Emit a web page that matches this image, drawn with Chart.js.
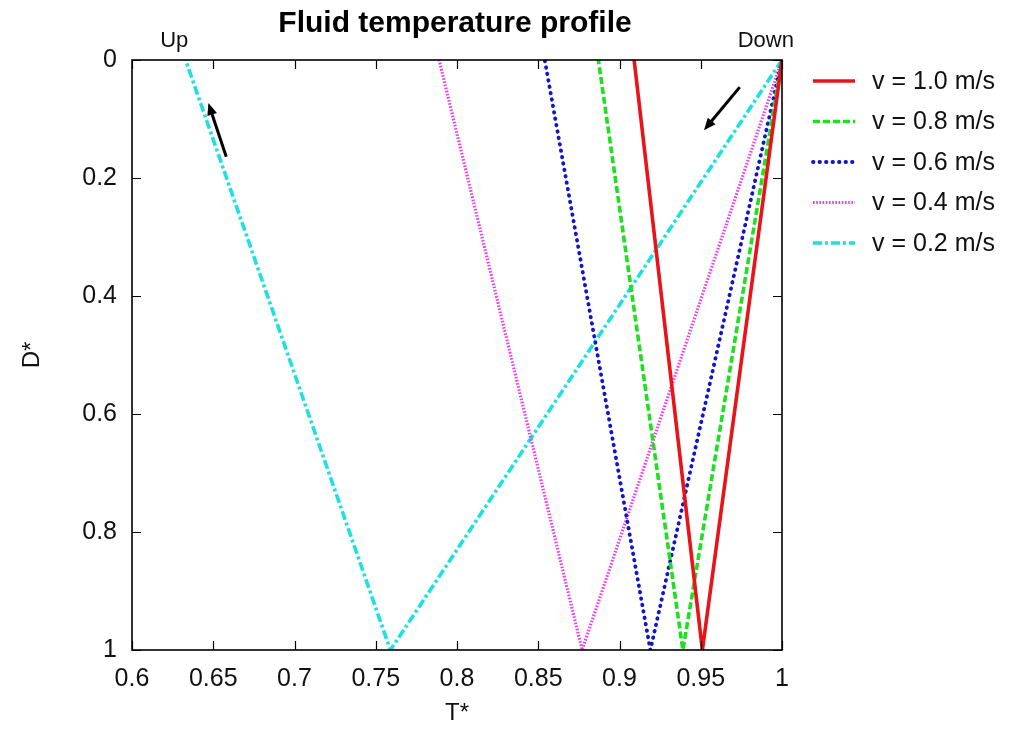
<!DOCTYPE html>
<html>
<head>
<meta charset="utf-8">
<title>Fluid temperature profile</title>
<script src="https://cdn.jsdelivr.net/npm/chart.js@4"></script>
<style>
  body { margin: 0; background: #fff; }
  #wrap { width: 1011px; height: 731px; }
</style>
</head>
<body>
<div id="wrap"><canvas id="profile" width="1011" height="731"></canvas></div>
<script>
// depth along the well (down to the bottom, then back up)
var depth = [0, 1, 0];

// T* at the top inlet, at the bottom, and back at the top outlet
var temp10 = [1.0, 0.951, 0.909];
var temp08 = [1.0, 0.939, 0.887];
var temp06 = [1.0, 0.919, 0.854];
var temp04 = [1.0, 0.877, 0.789];
var temp02 = [1.0, 0.759, 0.633];

var seriesLabels = ['v = 1.0 m/s', 'v = 0.8 m/s', 'v = 0.6 m/s', 'v = 0.4 m/s', 'v = 0.2 m/s'];
var xTicks = [0.6, 0.65, 0.7, 0.75, 0.8, 0.85, 0.9, 0.95, 1];
var yTicks = [0, 0.2, 0.4, 0.6, 0.8, 1];

// flow direction arrows, [T*, D*] for tail and tip
var arrowUp = [[0.658, 0.164], [0.647, 0.073]];
var arrowDown = [[0.974, 0.046], [0.952, 0.119]];

var FONT = '"Liberation Sans", Arial, Helvetica, sans-serif';

function pts(temps){
    return temps.map(function(t, i){ return {x: t, y: depth[i]}; });
}

var styles = [
    {color: '#e8141a', dash: [], width: 3.6, cap: 'butt'},
    {color: '#1fe01f', dash: [7, 3], width: 3.6, cap: 'butt'},
    {color: '#1414c8', dash: [0.5, 6], width: 3.8, cap: 'round'},
    {color: '#ee3cee', dash: [1.6, 1.6], width: 3.2, cap: 'butt'},
    {color: '#1ee0e0', dash: [9, 3, 3, 3], width: 3.6, cap: 'butt'}
];
var temps = [temp10, temp08, temp06, temp04, temp02];

var datasets = temps.map(function(t, i){
    return {
        label: seriesLabels[i],
        data: pts(t),
        borderColor: styles[i].color,
        backgroundColor: styles[i].color,
        borderWidth: styles[i].width,
        borderDash: styles[i].dash,
        borderCapStyle: styles[i].cap,
        pointRadius: 0,
        tension: 0,
        fill: false
    };
});

function drawArrow(ctx, chart, a){
    var xs = chart.scales.x, ys = chart.scales.y;
    var x0 = xs.getPixelForValue(a[0][0]), y0 = ys.getPixelForValue(a[0][1]);
    var x1 = xs.getPixelForValue(a[1][0]), y1 = ys.getPixelForValue(a[1][1]);
    var ang = Math.atan2(y1 - y0, x1 - x0);
    var hl = 12, hw = 5;
    ctx.save();
    ctx.strokeStyle = '#000';
    ctx.fillStyle = '#000';
    ctx.lineWidth = 3;
    ctx.beginPath();
    ctx.moveTo(x0, y0);
    ctx.lineTo(x1 - Math.cos(ang) * hl * 0.8, y1 - Math.sin(ang) * hl * 0.8);
    ctx.stroke();
    ctx.beginPath();
    ctx.moveTo(x1, y1);
    ctx.lineTo(x1 - Math.cos(ang) * hl - Math.sin(ang) * hw, y1 - Math.sin(ang) * hl + Math.cos(ang) * hw);
    ctx.lineTo(x1 - Math.cos(ang) * hl + Math.sin(ang) * hw, y1 - Math.sin(ang) * hl - Math.cos(ang) * hw);
    ctx.closePath();
    ctx.fill();
    ctx.restore();
}

// frame with inward ticks on all four sides, title, labels, arrows and key
var decorations = {
    id: 'decorations',
    afterDatasetsDraw: function(chart){
        var ctx = chart.ctx, area = chart.chartArea;
        var xs = chart.scales.x, ys = chart.scales.y;
        var tl = 9;
        ctx.save();
        ctx.strokeStyle = '#000';
        ctx.lineWidth = 1.6;
        ctx.strokeRect(area.left, area.top, area.right - area.left, area.bottom - area.top);
        ctx.lineWidth = 1.2;
        ctx.beginPath();
        xs.ticks.forEach(function(t){
            var px = Math.round(xs.getPixelForValue(t.value)) + 0.5;
            ctx.moveTo(px, area.bottom); ctx.lineTo(px, area.bottom - tl);
            ctx.moveTo(px, area.top); ctx.lineTo(px, area.top + tl);
        });
        ys.ticks.forEach(function(t){
            var py = Math.round(ys.getPixelForValue(t.value)) + 0.5;
            ctx.moveTo(area.left, py); ctx.lineTo(area.left + tl, py);
            ctx.moveTo(area.right, py); ctx.lineTo(area.right - tl, py);
        });
        ctx.stroke();

        // title
        ctx.fillStyle = '#000';
        ctx.font = 'bold 30px ' + FONT;
        ctx.textAlign = 'center';
        ctx.textBaseline = 'middle';
        ctx.fillText('Fluid temperature profile', (area.left + area.right) / 2 - 2, 24);

        ctx.font = '22px ' + FONT;
        ctx.fillStyle = '#111';
        ctx.fillText('Up', xs.getPixelForValue(0.626), 41);
        ctx.fillText('Down', xs.getPixelForValue(0.99), 41);
        ctx.restore();

        drawArrow(ctx, chart, arrowUp);
        drawArrow(ctx, chart, arrowDown);

        // key
        ctx.save();
        ctx.font = '25px ' + FONT;
        ctx.textAlign = 'left';
        ctx.textBaseline = 'middle';
        chart.data.datasets.forEach(function(ds, i){
            var y = area.top + 21 + i * 40.5;
            ctx.beginPath();
            ctx.strokeStyle = ds.borderColor;
            ctx.lineWidth = ds.borderWidth;
            ctx.lineCap = ds.borderCapStyle;
            ctx.setLineDash(ds.borderDash);
            ctx.moveTo(813, y);
            ctx.lineTo(855, y);
            ctx.stroke();
            ctx.setLineDash([]);
            ctx.fillStyle = '#111';
            ctx.fillText(ds.label, 872, y + 1);
        });
        ctx.restore();
    }
};

window.onload = function(){
    var ctx = document.getElementById('profile').getContext('2d');
    window.profileChart = new Chart(ctx, {
        type: 'line',
        data: { datasets: datasets },
        options: {
            responsive: false,
            animation: false,
            layout: { padding: { top: 60, right: 229, bottom: 0, left: 0 } },
            plugins: {
                legend: { display: false },
                title: { display: false },
                tooltip: { enabled: false }
            },
            scales: {
                x: {
                    type: 'linear',
                    min: xTicks[0],
                    max: xTicks[xTicks.length - 1],
                    afterBuildTicks: function(s){
                        s.ticks = xTicks.map(function(v){ return {value: v}; });
                    },
                    afterFit: function(s){ s.height = 81; },
                    grid: { display: false, drawTicks: false },
                    border: { display: false },
                    ticks: {
                        autoSkip: false,
                        maxRotation: 0,
                        padding: 14,
                        color: '#111',
                        font: { family: FONT, size: 25 },
                        callback: function(v){ return String(+v.toFixed(2)); }
                    },
                    title: {
                        display: true,
                        text: 'T*',
                        color: '#111',
                        font: { family: FONT, size: 24 },
                        padding: { top: 0, bottom: 3 }
                    }
                },
                y: {
                    type: 'linear',
                    reverse: true,
                    min: yTicks[0],
                    max: yTicks[yTicks.length - 1],
                    afterBuildTicks: function(s){
                        s.ticks = yTicks.map(function(v){ return {value: v}; });
                    },
                    afterFit: function(s){ s.width = 132; },
                    grid: { display: false, drawTicks: false },
                    border: { display: false },
                    ticks: {
                        autoSkip: false,
                        padding: 15,
                        color: '#111',
                        font: { family: FONT, size: 25 },
                        callback: function(v){ return String(+v.toFixed(1)); }
                    },
                    title: {
                        display: true,
                        text: 'D*',
                        color: '#111',
                        font: { family: FONT, size: 24 },
                        padding: { top: 18, bottom: 0 }
                    }
                }
            }
        },
        plugins: [decorations]
    });
};
</script>
</body>
</html>
